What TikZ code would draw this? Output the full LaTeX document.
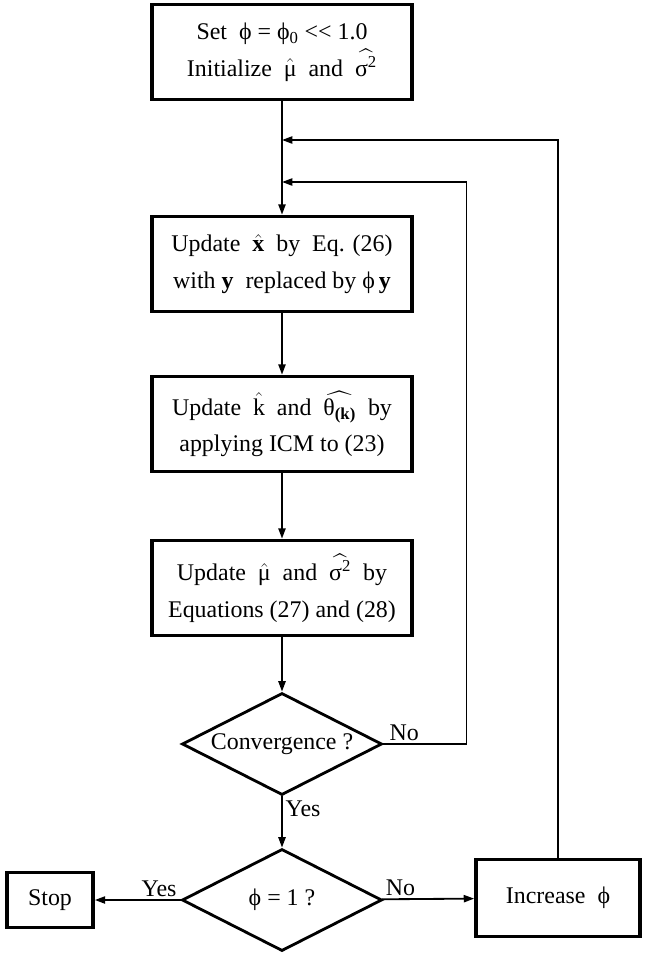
\documentclass[tikz,border=0pt]{standalone}
\usepackage{fontspec}
\setmainfont{Liberation Serif}
\usepackage{amsmath}
\usetikzlibrary{positioning, shapes.geometric, arrows.meta}

% small hat and wide hat over text symbols
\newcommand{\shat}[1]{\ensuremath{\hat{\text{#1}}}}
\newcommand{\what}[1]{\ensuremath{\widehat{\text{#1}}}}

\begin{document}
\begin{tikzpicture}[
  x=0.025cm, y=-0.025cm,
  every node/.style={font=\fontsize{17}{26}\selectfont, align=center},
  stepbox/.style={rectangle, draw, line width=2.6pt, minimum width=6.5cm, minimum height=2.375cm},
  decision/.style={diamond, draw, line width=2pt, inner sep=0pt, aspect=2, minimum width=5cm, minimum height=2.55cm},
  flow/.style={draw, line width=1.3pt, -{Triangle[length=2.6mm, width=1.8mm]}},
  lbl/.style={inner sep=2pt},
]
  \useasboundingbox (0,0) rectangle (647,954);

  % main column
  \node[stepbox] (init) at (282,52) {Set\ \ ϕ = ϕ$_{\text{0}}$ <\kern0pt< 1.0\\Initialize\ \ \shat{μ}\ \ and\ \ \what{σ$^{\text{2}}$}};
  \node[stepbox] (updx) at (282,264) {Update\ \ \shat{\bfseries x}\ \ by\ \ Eq. (26)\\with \textbf{y}\ \ replaced by ϕ\,\textbf{y}};
  \node[stepbox] (updk) at (282,424) {Update\ \ \shat{k}\ \ and\ \ \what{θ$_{\text{\bfseries(k)}}$}\ \ by\\applying ICM to (23)};
  \node[stepbox] (updmu) at (282,588) {Update\ \ \shat{μ}\ \ and\ \ \what{σ$^{\text{2}}$}\ \ by\\Equations (27) and (28)};
  \node[decision] (conv) at (282,744) {Convergence ?};
  \node[decision] (phione) at (282,900) {ϕ = 1 ?};

  % bottom row
  \node[stepbox, minimum width=2.15cm, minimum height=1.375cm] (stop) at (50,900) {Stop};
  \node[stepbox, minimum width=4.1cm, minimum height=1.925cm] (incr) at (558,898) {Increase\ \ ϕ};

  % joins on the main line
  \coordinate (outer) at (282,140);
  \coordinate (inner) at (282,182);

  \draw[flow] (init) -- (updx);
  \draw[flow] (updx) -- (updk);
  \draw[flow] (updk) -- (updmu);
  \draw[flow] (updmu) -- (conv);
  \draw[flow] (conv) -- node[lbl, right, pos=0.25] {Yes} (phione);
  \draw[flow] (phione) -- node[lbl, above, pos=0.25] {Yes} (stop);
  \draw[flow] (phione) -- node[lbl, above, pos=0.2] {No} (incr);

  % loops back
  \draw[flow] (conv.east) -- node[lbl, above, pos=0.25] {No} ++(83,0) |- (inner);
  \draw[flow] (incr.north) |- (outer);
\end{tikzpicture}
\end{document}
